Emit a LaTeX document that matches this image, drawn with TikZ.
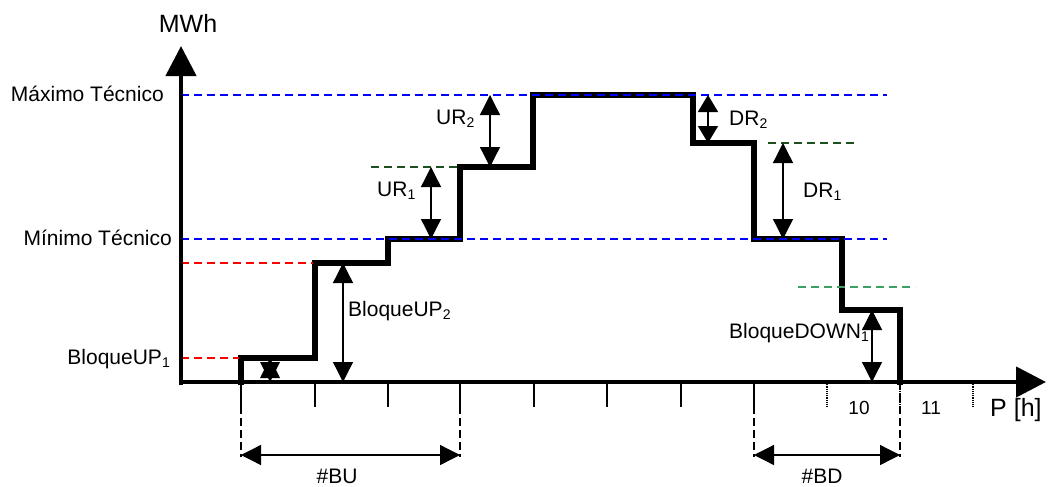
\documentclass[tikz,border=0pt]{standalone}
\usepackage{fontspec}
\setmainfont{Liberation Sans}
\usetikzlibrary{arrows.meta}
\newcommand\sbs[1]{\raisebox{-3pt}{\fontsize{14}{14}\selectfont #1}}
\definecolor{dkgreen}{RGB}{30,80,30}
\definecolor{ltgreen}{RGB}{60,160,100}
\begin{document}
\begin{tikzpicture}[x=1pt,y=-1pt,
  lbl/.style={inner sep=0pt,font=\fontsize{21}{24}\selectfont},
  biglbl/.style={inner sep=0pt,font=\fontsize{25}{28}\selectfont},
  numlbl/.style={inner sep=0pt,font=\fontsize{19}{22}\selectfont},
  axisline/.style={line width=4.5pt,-{Triangle[length=30pt,width=30pt]}},
  profile/.style={line width=6pt,line join=miter,line cap=rect},
  lvl/.style={line width=2pt,dash pattern=on 8pt off 5pt},
  guide/.style={line width=1.2pt,dash pattern=on 8pt off 4pt},
  tickln/.style={line width=1.5pt},
  dtick/.style={line width=1.2pt,densely dotted},
  dim/.style={line width=1.3pt,{Triangle[length=20pt,width=20pt]}-{Triangle[length=20pt,width=20pt]}},
  shortdim/.style={line width=1.3pt,{Triangle[length=17pt,width=20pt]}-{Triangle[length=17pt,width=20pt]}}
]
\useasboundingbox (0,0) rectangle (1049,487);

% key coordinates
\coordinate (O) at (181,382);
\coordinate (Ytop) at (181,46);
\coordinate (Xend) at (1046,382);

% profile
\draw[profile] (241,382) -- (241,358) -- (315,358) -- (315,263) -- (388,263) -- (388,239)
  -- (460,239) -- (460,167) -- (533,167) -- (533,95) -- (693,95) -- (693,143)
  -- (754,143) -- (754,239) -- (842,239) -- (842,310) -- (900,310) -- (900,382);

% level lines
\coordinate (maxL) at (181,95);  \coordinate (maxR) at (887,95);
\coordinate (minL) at (181,239); \coordinate (minR) at (887,239);
\draw[lvl,blue] (maxL) -- (maxR);
\draw[lvl,blue] (minL) -- (minR);
\coordinate (r2L) at (181,263); \coordinate (r2R) at (313,263);
\coordinate (r1L) at (181,358); \coordinate (r1R) at (239,358);
\draw[lvl,red] (r2L) -- (r2R);
\draw[lvl,red] (r1L) -- (r1R);
\coordinate (g1L) at (371,167); \coordinate (g1R) at (460,167);
\coordinate (g2L) at (768,143); \coordinate (g2R) at (857,143);
\coordinate (g3L) at (798,287); \coordinate (g3R) at (915,287);
\draw[lvl,dkgreen,line width=1.5pt] (g1L) -- (g1R);
\draw[lvl,dkgreen,line width=1.5pt] (g2L) -- (g2R);
\draw[lvl,ltgreen,line width=1.5pt] (g3L) -- (g3R);

% ticks
\foreach \x in {241,315,388,460,534,607,681,754} {
  \coordinate (t\x a) at (\x,382);
  \coordinate (t\x b) at (\x,407);
  \draw[tickln] (t\x a) -- (t\x b);
}
\foreach \x in {827,900,973} {
  \coordinate (d\x a) at (\x,382);
  \coordinate (d\x b) at (\x,407);
  \draw[dtick] (d\x a) -- (d\x b);
}

% guide dashed verticals
\foreach \x in {241,460,754,900} {
  \coordinate (v\x a) at (\x,382);
  \coordinate (v\x b) at (\x,457);
  \draw[guide] (v\x a) -- (v\x b);
}

% axes
\draw[axisline] (181,385) -- (Ytop);
\draw[axisline] (179,382) -- (Xend);

% vertical dimension arrows
\coordinate (a0t) at (270,358); \coordinate (a0b) at (270,382);
\fill (a0t) -- (260,378) -- (280,378) -- cycle;
\fill (a0b) -- (260,362) -- (280,362) -- cycle;
\coordinate (a1t) at (343,263); \coordinate (a1b) at (343,382);
\draw[dim] (a1t) -- (a1b);
\coordinate (a2t) at (431,167); \coordinate (a2b) at (431,239);
\draw[dim] (a2t) -- (a2b);
\coordinate (a3t) at (490,95); \coordinate (a3b) at (490,167);
\draw[dim] (a3t) -- (a3b);
\coordinate (a4t) at (708,95); \coordinate (a4b) at (708,143);
\draw[shortdim] (a4t) -- (a4b);
\coordinate (a5t) at (783,143); \coordinate (a5b) at (783,239);
\draw[dim] (a5t) -- (a5b);
\coordinate (a6t) at (872,310); \coordinate (a6b) at (872,382);
\draw[dim] (a6t) -- (a6b);

% horizontal dimension arrows
\coordinate (bua) at (241,455); \coordinate (bub) at (460,455);
\coordinate (bda) at (754,455); \coordinate (bdb) at (900,455);
\draw[dim] (bua) -- (bub);
\draw[dim] (bda) -- (bdb);

% labels
\node[biglbl,anchor=base] (mwh) at (188,33) {MWh};
\node[lbl,anchor=base east] (maxt) at (164,101) {Máximo Técnico};
\node[lbl,anchor=base east] (mint) at (172,245) {Mínimo Técnico};
\node[lbl,anchor=base east] (bup1) at (170,364) {BloqueUP\sbs{1}};
\node[lbl,anchor=base west] (bup2) at (348,316) {BloqueUP\sbs{2}};
\node[lbl,anchor=base west] (ur1) at (377,196) {UR\sbs{1}};
\node[lbl,anchor=base west] (ur2) at (436,124) {UR\sbs{2}};
\node[lbl,anchor=base west] (dr2) at (729,125) {DR\sbs{2}};
\node[lbl,anchor=base west] (dr1) at (803,197) {DR\sbs{1}};
\node[lbl,anchor=base west] (bdn1) at (729,338) {BloqueDOWN\sbs{1}};
\node[numlbl] (n10) at (859,408) {10};
\node[numlbl] (n11) at (931,408) {11};
\node[biglbl,anchor=base west] (ph) at (990,416) {P [h]};
\node[lbl] (bu) at (337,476) {\#BU};
\node[lbl] (bd) at (822,476) {\#BD};
\end{tikzpicture}
\end{document}
